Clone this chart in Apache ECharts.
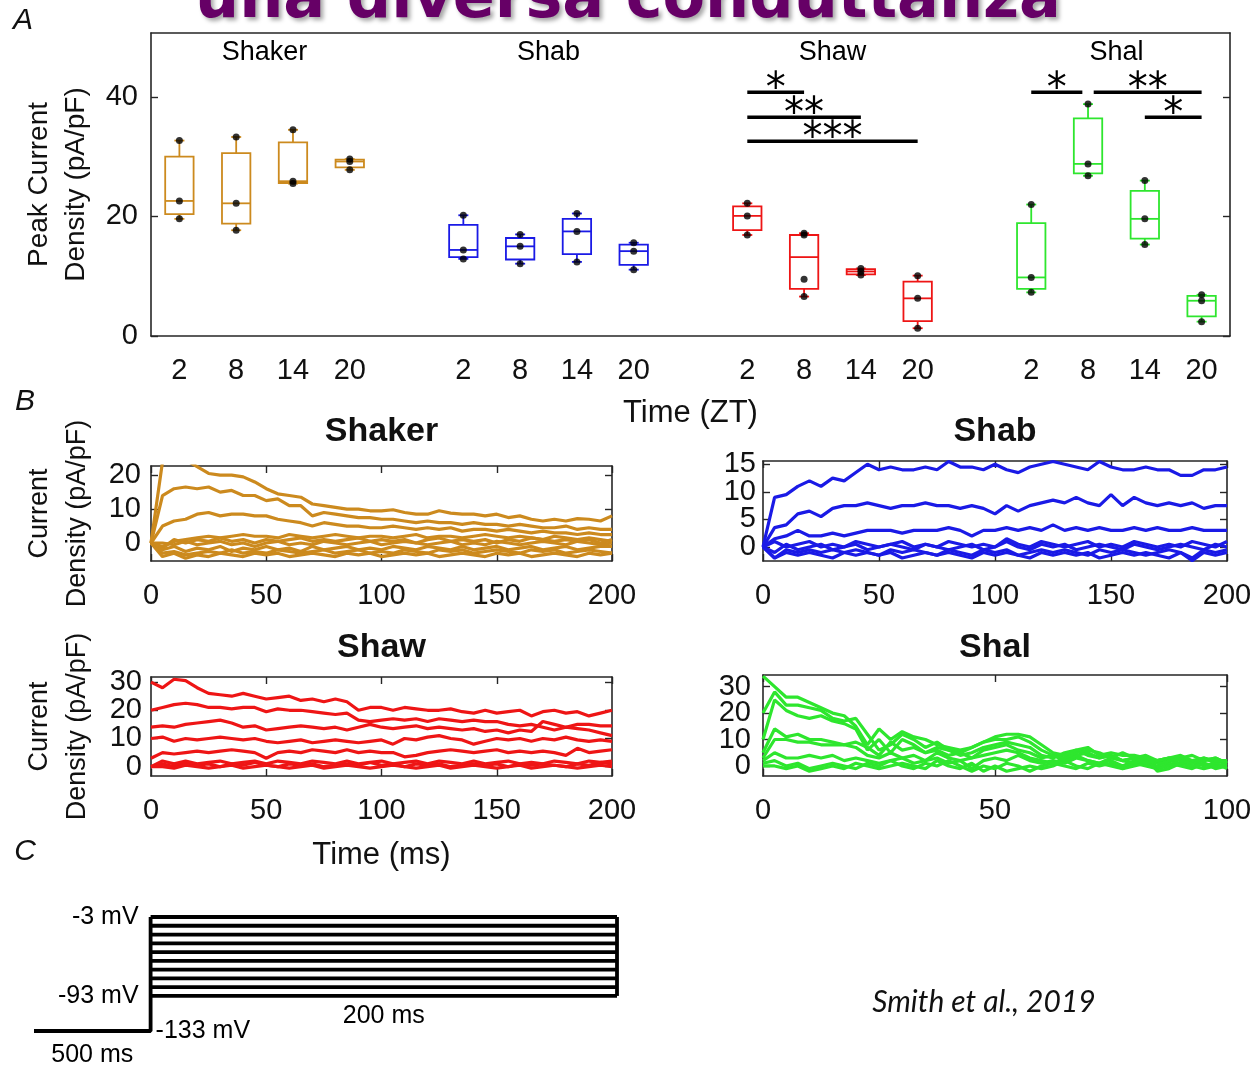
<!DOCTYPE html>
<html>
<head>
<meta charset="utf-8">
<script src="https://cdn.jsdelivr.net/npm/echarts@6.0.0/dist/echarts.min.js"></script>
<style>
html, body { margin: 0; padding: 0; background: #fff; }
#chart { width: 1255px; height: 1069px; }
</style>
</head>
<body>
<div id="chart"></div>
<script>
// ---------- panel A: peak current density per ZT ----------
const channels = ['Shaker', 'Shab', 'Shaw', 'Shal'];
const channelColors = ['#CC8A1E', '#1A1AE6', '#EE1515', '#2EE62E'];
const ztLabels = ['2', '8', '14', '20'];
const peakTicks = [0, 20, 40];

// box summaries: [min, q1, median, q3, max]
const shakerBox = [[19.6, 20.4, 22.6, 30.0, 32.7], [17.7, 18.8, 22.2, 30.6, 33.3], [25.5, 25.6, 25.9, 32.4, 34.5], [27.8, 28.2, 29.2, 29.5, 29.6]];
const shabBox = [[12.9, 13.2, 14.4, 18.6, 20.2], [12.1, 12.8, 15.0, 16.4, 17.0], [12.4, 13.7, 17.5, 19.6, 20.5], [11.1, 11.9, 14.2, 15.3, 15.6]];
const shawBox = [[16.9, 17.7, 20.1, 21.7, 22.2], [6.6, 7.9, 13.2, 16.9, 17.2], [10.2, 10.3, 10.8, 11.2, 11.3], [1.3, 2.5, 6.3, 9.1, 10.1]];
const shalBox = [[7.3, 7.9, 9.8, 18.9, 22.0], [26.8, 27.2, 28.8, 36.4, 38.8], [15.3, 16.3, 19.6, 24.3, 26.0], [2.4, 3.3, 5.9, 6.7, 6.9]];

// individual cells (black dots)
const shakerPts = [[32.7, 22.6, 19.6], [33.3, 22.2, 17.7], [34.5, 25.9, 25.5], [29.6, 29.2, 27.8]];
const shabPts = [[20.2, 14.4, 12.9], [17.0, 15.0, 12.1], [20.5, 17.5, 12.4], [15.6, 14.2, 11.1]];
const shawPts = [[22.2, 20.1, 16.9], [17.2, 16.9, 9.5, 6.6], [11.3, 10.8, 10.2], [10.1, 6.3, 1.3]];
const shalPts = [[22.0, 9.8, 7.3], [38.8, 28.8, 26.8], [26.0, 19.6, 15.3], [6.9, 5.9, 2.4]];

// significance bars (slot positions on the ZT axis) and their stars
const sigFrom = [10, 10, 10, 15, 16.1, 17];
const sigTo = [11, 12, 13, 15.9, 18, 18];
const sigLevel = [40.8, 36.6, 32.6, 40.8, 40.8, 36.6];
const sigStars = ['*', '**', '***', '*', '**', '*'];
const groupTitleLevel = 47.5;

// ---------- panel B: current traces ----------
const t200 = [0, 5, 10, 15, 20, 25, 30, 35, 40, 45, 50, 55, 60, 65, 70, 75, 80, 85, 90, 95, 100, 105, 110, 115, 120, 125, 130, 135, 140, 145, 150, 155, 160, 165, 170, 175, 180, 185, 190, 195, 200];
const t100 = [0, 2.5, 5, 7.5, 10, 12.5, 15, 17.5, 20, 22.5, 25, 27.5, 30, 32.5, 35, 37.5, 40, 42.5, 45, 47.5, 50, 52.5, 55, 57.5, 60, 62.5, 65, 67.5, 70, 72.5, 75, 77.5, 80, 82.5, 85, 87.5, 90, 92.5, 95, 97.5, 100];
const ticks200 = [0, 50, 100, 150, 200];
const ticks100 = [0, 50, 100];

const shakerTicks = [0, 10, 20];
const shaker1 = [0, 24, 25, 24.5, 22.5, 20.5, 20, 20, 19.5, 18, 16, 14.5, 14, 13.5, 11.5, 11, 10.5, 10, 10, 9.5, 9.5, 9.8, 9, 8.5, 8.5, 9.5, 8.8, 8.5, 8.5, 8, 8.5, 7.5, 8, 7, 6.5, 7, 6.5, 7.2, 7, 6.5, 8];
const shaker2 = [0, 14, 16, 16.5, 16, 16.5, 15, 15.5, 14, 14, 12.5, 13, 11, 11, 8, 9, 8.5, 8, 7.5, 7.5, 7, 7, 6.5, 6, 6.5, 6, 6, 5.5, 6, 5.5, 5.5, 5, 5.5, 5, 4.5, 4.5, 5, 4, 4.5, 4, 4];
const shaker3 = [0, 5, 6.5, 7, 8.5, 9, 8, 8.5, 8.5, 8, 8, 7, 6.5, 6, 5, 6, 5.5, 5, 5, 4.5, 4.5, 5, 4.5, 4, 4.5, 4, 4.5, 3.5, 4, 4, 3.5, 4, 3.5, 3, 3.5, 3, 3, 2.5, 3, 2.5, 2.5];
const shaker4 = [0, -1, 0.5, 1, 1.5, 2, 1.5, 2, 2.5, 2, 2, 1.5, 2.5, 2, 1.5, 2, 2.5, 2, 1.5, 2, 2, 1.5, 2, 2.5, 1.5, 2, 2, 1.5, 2, 2.5, 2, 1.5, 2, 1.5, 1, 2, 1.5, 1, 1.5, 1, 0.5];
const shaker5 = [0, -2, -1, -2.5, -1.5, -2, -1, -2.5, -1.5, -2, -1, -2, -1.5, -2.5, -1, -2, -1.5, -1, -2, -1.5, -2, -1, -1.5, -2, -1, -1.5, -2, -1, -2, -1.5, -1, -2, -1.5, -1, -2, -1.5, -1, -2, -1.5, -1, -1];
const shaker6 = [0, -3, -2.5, -3.5, -3, -2.5, -3, -2, -3, -2.5, -3, -2, -2.5, -3, -2.5, -2, -3, -2.5, -2, -3, -2.5, -3, -2, -2.5, -3, -2, -2.5, -2, -3, -2.5, -2, -2.5, -3, -2, -2.5, -2, -3, -2.5, -2, -2.5, -3];
const shaker7 = [0, 0, -0.5, 0.5, -0.5, 0, 0.5, -0.5, 0, -1, 0, 0.5, -0.5, 0, -0.5, 0.5, 0, -0.5, 0, 0.5, -0.5, 0, 0.5, 0, -0.5, 0, 0.5, -0.5, 0, -0.5, 0.5, 0, -0.5, 0, 0.5, 0, -0.5, 0.5, 0, -0.5, 0];
const shaker8 = [0, -4, -3, -4.5, -3.5, -4, -3, -3.5, -4, -3, -3.5, -3, -4, -3.5, -3, -3.5, -4, -3, -3.5, -3, -4, -3.5, -3, -3.5, -3, -4, -3.5, -3, -3.5, -4, -3, -3.5, -3, -4, -3.5, -3, -3.5, -4, -3, -3.5, -3];
const shaker9 = [0, -1.5, 1, 0, 1, 0.5, 1.5, 0.5, 1, 0, 1, 0.5, 1, 1.5, 0.5, 1, 0.5, 1, 1.5, 0.5, 1, 0.5, 1, 0, 1, 1.5, 0.5, 1, 0.5, 1, 0, 1, 0.5, 1.5, 1, 0.5, 1, 0.5, 1, 0, 1];

const shabTicks = [0, 5, 10, 15];
const shab1 = [0, 9, 9.5, 11, 12, 11, 12.5, 12, 13.5, 15, 14, 14.5, 14, 14, 14.5, 14, 15.5, 14.5, 14.5, 14, 15, 14, 13.5, 14.5, 15, 15.5, 15, 14.5, 14, 15.5, 14.5, 14, 14, 14.5, 14, 14, 13, 13, 14, 14, 14.5];
const shab2 = [0, 3.5, 4, 6, 6.5, 5.5, 7, 7.5, 7.5, 8, 7.5, 7, 7.5, 7.5, 8, 7.5, 7.5, 7, 7.5, 7, 6, 7.5, 6.5, 7.5, 8, 8.5, 8, 9, 8, 7.5, 9.5, 7.5, 9, 8, 7.5, 8, 7.5, 8, 7, 7.5, 7.5];
const shab3 = [0, 1.5, 2, 3, 2, 2, 2.5, 2, 2.5, 3, 3, 3, 2.5, 3, 3, 3, 3.5, 3, 2, 3, 3, 3.5, 3, 3.5, 3, 4, 3, 3.5, 3, 3.5, 3, 3, 3.5, 3, 3.5, 3, 3, 3.5, 3, 3, 3];
const shab4 = [0, -1, 0.5, -0.5, 0, 0.5, -0.5, 0, 0.5, -0.5, 0, 0.5, 0, -0.5, 0.5, 0, -0.5, 0, 0.5, -0.5, 0, 1, 0, -0.5, 0.5, 0, 0.5, -0.5, 0, 0.5, 0, -0.5, 0.5, 0, -0.5, 0, 0.5, 0, -0.5, 0.5, 0];
const shab5 = [0, -2, -0.5, -1, -0.5, -1, -0.5, -1, -0.5, -1, -1.5, -0.5, -1, -0.5, -1, -1.5, -0.5, -1, -1.5, -0.5, -1, -0.5, -1.5, -1, -0.5, -1, -0.5, -1, -1.5, -0.5, -1, -0.5, -1, -1.5, -1, -0.5, -1, -2, -0.5, -1, -0.5];
const shab6 = [0, 1, 0, 0.5, 1, 0, 0.5, 0, 1, 0.5, 0, 0.5, 1, 0, 0.5, 0, 1, 0.5, 0, 0.5, 0, 1.5, 0.5, 0, 1, 0.5, 0, 0.5, 1, 0, 0.5, 0, 1, 0.5, 0, 0.5, 0, 1, 0.5, 0, 1];
const shab7 = [0, -2, -1, -1.5, -1, -1.5, -2, -1, -1.5, -1, -1.5, -1, -2, -1.5, -1, -1.5, -1, -1.5, -2, -1, -1.5, -1, -1.5, -2, -1, -1.5, -1, -1.5, -1, -2, -1.5, -1, -1.5, -1, -1.5, -2, -1, -2.5, -1, -1.5, -1];

const shawTicks = [0, 10, 20, 30];
const shaw1 = [30, 28, 31, 30.5, 28, 26, 25.5, 25, 26, 25, 24, 24.5, 25, 23.5, 24, 23, 24, 23, 20, 21, 21, 20, 21, 20.5, 20, 20, 20.5, 19.5, 19, 20, 19, 19.5, 20, 18, 19.5, 20, 19, 19.5, 18, 19, 20];
const shaw2 = [20, 21, 22, 22.5, 22, 21, 21, 20.5, 21, 21, 19.5, 20.5, 20, 20, 19.5, 19, 18.5, 19, 16.5, 16, 16.5, 17, 16.5, 17, 16, 17, 16.5, 16, 16.5, 16, 16, 15, 14.5, 15, 14, 13, 14, 13.5, 13, 12, 11];
const shaw3 = [14, 14.5, 14, 15, 15.5, 16, 16.5, 15.5, 14, 14.5, 13, 13.5, 14, 14.5, 14, 13.5, 14, 13, 14, 15, 14, 13.5, 14, 14.5, 13.5, 14, 13.5, 13, 13.5, 12.5, 13, 12, 13, 12.5, 16, 15, 14, 15, 15, 14.5, 14.5];
const shaw4 = [10, 10.5, 9, 10, 9.5, 10, 10.5, 10, 9.5, 10, 9, 8.5, 9, 9.5, 8.5, 9, 9.5, 9, 8.5, 9, 9.5, 8, 10, 9.5, 10.5, 11, 10, 9.5, 8, 9, 10, 9.5, 10, 9, 10, 9.5, 10.5, 9.5, 9, 9.5, 9];
const shaw5 = [3, 5, 4.5, 5, 5.5, 5, 5.5, 6, 5.5, 5, 3, 5, 5.5, 5, 6, 5.5, 5, 6, 5, 5.5, 5, 5, 3.5, 4, 5, 5.5, 6, 5.5, 5, 5.5, 6, 5, 5.5, 5, 5.5, 5, 4, 6.5, 5, 5.5, 6];
const shaw6 = [0, 1, 0, 1.5, 0.5, 1, 0, 1, 0.5, 1.5, 0.5, 0, 1, 0.5, 1, 0, 0.5, 1, 0.5, 1.5, 0.5, 1, 0, 1, 0.5, 1, 0, 0.5, 1, 0.5, 1, 0, 1, 0.5, 1, 0.5, 0, 1, 0.5, 1.5, 1];
const shaw7 = [0, 2, 1, 2, 1, 1.5, 2, 1, 1.5, 2, 1, 2, 1.5, 1, 2, 1.5, 1, 2, 1, 1.5, 2, 1, 1.5, 2, 1, 2, 1.5, 1, 2, 1, 1.5, 2, 1, 1.5, 1, 2, 1.5, 1, 2, 1.5, 2];
const shaw8 = [0, 0, -0.5, 0.5, 0, -0.5, 0, 0.5, -0.5, 0, 0.5, 0, -0.5, 0, 0.5, -0.5, 0, 0.5, 0, -0.5, 0, 0.5, 0, -0.5, 0, 0.5, -0.5, 0, 0.5, 0, -0.5, 0, 0.5, -0.5, 0, 0.5, 0, -0.5, 0, 0.5, 0];

const shalTicks = [0, 10, 20, 30];
const shal1 = [34, 30, 26, 26, 24, 22, 20, 19, 15, 8, 14, 10, 13, 11, 10, 8, 7, 6, 7, 9, 11, 12, 12, 11, 8, 5, 4, 6, 7, 4, 5, 4, 4, 3, 2, 3, 4, 2, 3, 2, 2];
const shal2 = [20, 28, 23, 23, 22, 21, 18, 17, 18, 12, 6, 8, 12, 10, 7, 9, 6, 5, 7, 9, 10, 10, 11, 9, 6, 4, 3, 5, 6, 5, 3, 5, 3, 4, 2, 3, 3, 4, 2, 3, 1];
const shal3 = [10, 25, 21, 19, 18, 19, 17, 16, 14, 6, 10, 5, 10, 8, 5, 7, 6, 4, 5, 7, 8, 9, 8, 7, 4, 3, 5, 6, 4, 3, 4, 2, 3, 1, 2, 3, 2, 1, 3, 1, 2];
const shal4 = [5, 14, 11, 12, 10, 10, 9, 8, 9, 7, 4, 9, 6, 7, 5, 6, 4, 5, 3, 6, 7, 8, 6, 5, 3, 4, 2, 4, 5, 3, 4, 2, 3, 2, 1, 2, 3, 1, 2, 3, 1];
const shal5 = [3, 10, 10, 9, 9, 8, 8, 8, 7, 4, 3, 5, 3, 4, 2, 5, 3, 2, 3, 4, 5, 6, 5, 3, 2, 1, 3, 4, 2, 1, 3, 2, 1, 3, -2, -1, 1, 2, 0, 1, -1];
const shal6 = [2, 5, 3, 3, 4, 3, 4, 2, 3, 2, 1, 2, 3, 1, 2, 3, 1, 2, -1, 2, 3, 2, 4, 2, 1, 2, 1, 3, 2, 1, 2, 0, 2, 1, 0, 2, 1, 0, 1, 0, 1];
const shal7 = [1, 2, 0, 1, -1, 0, 1, 0, -1, 1, 0, 2, 0, -1, 1, 0, 2, 0, -2, 0, -1, 1, 0, -2, 0, 1, 0, -1, 1, 0, 1, -1, 0, 1, -1, 0, 1, 0, -1, 0, 0];
const shal8 = [0, 0, -1, 0, -2, -1, 0, -1, 1, 0, -1, 0, 1, 0, -1, 2, 0, -1, 1, -2, 0, -2, -1, 0, -1, 0, 2, 0, -1, 1, 0, -1, 1, 0, -1, 1, 0, -1, 1, -1, 0];

// ---------- panel C: voltage protocol ----------
const holdLevel = -133;
const stepLevels = [-3, -13, -23, -33, -43, -53, -63, -73, -83, -93];
const holdDuration = 500;
const stepDuration = 200;
const holdDrawnFrom = -50; // the 500 ms hold is drawn shortened, as in the original sketch

// ---------- helpers ----------
const ink = '#111';
const font = 'Liberation Sans';
const frame = { show: true, onZero: false, lineStyle: { color: '#262626', width: 1.6 } };

function tickAxis(ticks) {
  return { show: true, inside: true, length: 7, customValues: ticks, lineStyle: { color: '#262626', width: 1.4 } };
}

function xPair(grid, min, max, ticks, title, titleGap, name, nameGap) {
  return [{
    type: 'value', gridIndex: grid, min: min, max: max, position: 'bottom',
    axisLine: frame, splitLine: { show: false }, axisTick: tickAxis(ticks),
    axisLabel: { customValues: ticks, fontFamily: font, fontSize: 29, color: ink, margin: 20 },
    name: name || '', nameLocation: 'middle', nameGap: nameGap || 0,
    nameTextStyle: { fontFamily: font, fontSize: 31, color: ink }
  }, {
    type: 'value', gridIndex: grid, min: min, max: max, position: 'top',
    axisLine: frame, splitLine: { show: false }, axisTick: tickAxis(ticks),
    axisLabel: { show: false },
    name: title, nameLocation: 'middle', nameGap: titleGap,
    nameTextStyle: { fontFamily: font, fontSize: 34, fontWeight: 'bold', color: ink }
  }];
}

// the tick labels of panel B sit very close together; every other label goes on a
// second, line-less axis so the library does not drop them as overlapping
const extraY = [];
function yPair(grid, min, max, ticks, margin, name) {
  const evens = ticks.filter((t, i) => i % 2 === 0);
  const odds = ticks.filter((t, i) => i % 2 === 1);
  const lab = vals => ({ customValues: vals, fontFamily: font, fontSize: 29, color: ink, margin: margin,
    showMinLabel: true, showMaxLabel: true });
  extraY.push({
    type: 'value', gridIndex: grid, min: min, max: max, position: 'left',
    axisLine: { show: false }, axisTick: { show: false }, splitLine: { show: false },
    axisLabel: lab(odds)
  });
  return [{
    type: 'value', gridIndex: grid, min: min, max: max, position: 'left',
    axisLine: frame, splitLine: { show: false }, axisTick: tickAxis(ticks),
    axisLabel: lab(evens),
    name: name || '', nameLocation: 'middle', nameGap: 54,
    nameTextStyle: { fontFamily: font, fontSize: 27, color: ink, lineHeight: 38 }
  }, {
    type: 'value', gridIndex: grid, min: min, max: max, position: 'right',
    axisLine: frame, splitLine: { show: false }, axisTick: tickAxis(ticks),
    axisLabel: { show: false }
  }];
}

function traceSeries(xi, yi, times, traces, color) {
  return traces.map(tr => ({
    type: 'line', xAxisIndex: xi, yAxisIndex: yi, symbol: 'none', silent: true,
    data: tr.map((v, k) => [times[k], v]),
    lineStyle: { color: color, width: 3.2 }, itemStyle: { color: color }
  }));
}

// ZT axis: four slots per channel, one empty slot between channels
const aCategories = [];
channels.forEach((ch, c) => {
  ztLabels.forEach(zt => aCategories.push(ch + '|' + zt));
  if (c < channels.length - 1) aCategories.push('gap' + c);
});

function boxSeries(c, boxes, pts) {
  const color = channelColors[c];
  const dots = [];
  pts.forEach((arr, i) => arr.forEach(v => dots.push([c * 5 + i, v])));
  return [{
    type: 'custom', xAxisIndex: 0, yAxisIndex: 0, silent: true,
    data: boxes.map((b, i) => [c * 5 + i].concat(b)),
    encode: { x: 0, y: [1, 2, 3, 4, 5] },
    renderItem: function (params, api) {
      const x = api.value(0);
      const lo = api.coord([x, api.value(1)]);
      const q1 = api.coord([x, api.value(2)]);
      const md = api.coord([x, api.value(3)]);
      const q3 = api.coord([x, api.value(4)]);
      const hi = api.coord([x, api.value(5)]);
      const w = api.size([1, 0])[0] * 0.5;
      const cx = lo[0];
      const st = { stroke: color, lineWidth: 1.8, fill: 'none' };
      const ln = (x1, y1, x2, y2) => ({ type: 'line', shape: { x1: x1, y1: y1, x2: x2, y2: y2 }, style: st });
      return {
        type: 'group', children: [
          ln(cx, lo[1], cx, q1[1]),
          ln(cx, q3[1], cx, hi[1]),
          ln(cx - 5, lo[1], cx + 5, lo[1]),
          ln(cx - 5, hi[1], cx + 5, hi[1]),
          { type: 'rect', shape: { x: cx - w / 2, y: q3[1], width: w, height: q1[1] - q3[1] }, style: st },
          ln(cx - w / 2, md[1], cx + w / 2, md[1])
        ]
      };
    }
  }, {
    type: 'scatter', xAxisIndex: 0, yAxisIndex: 0, silent: true,
    data: dots, symbolSize: 7, itemStyle: { color: '#000' }, z: 5
  }];
}

// invisible anchor points that only carry a text label
const textMark = { symbol: 'circle', symbolSize: 0, itemStyle: { color: '#000', opacity: 1 }, silent: true };

const series = [].concat(
  boxSeries(0, shakerBox, shakerPts),
  boxSeries(1, shabBox, shabPts),
  boxSeries(2, shawBox, shawPts),
  boxSeries(3, shalBox, shalPts),
  sigFrom.map((f, k) => ({
    type: 'line', xAxisIndex: 1, yAxisIndex: 0, symbol: 'none', silent: true,
    data: [[f, sigLevel[k]], [sigTo[k], sigLevel[k]]],
    lineStyle: { color: '#000', width: 3.5 }
  })),
  [Object.assign({
    type: 'scatter', xAxisIndex: 1, yAxisIndex: 0,
    data: sigFrom.map((f, k) => ({ value: [(f + sigTo[k]) / 2, sigLevel[k]], name: sigStars[k] })),
    label: { show: true, position: 'inside', offset: [0, -2], formatter: p => p.name,
      fontFamily: 'DejaVu Sans', fontSize: 40, color: '#000', textBorderWidth: 0 }
  }, textMark)],
  [Object.assign({
    type: 'scatter', xAxisIndex: 1, yAxisIndex: 0,
    data: channels.map((ch, c) => ({ value: [c * 5 + 1.5, groupTitleLevel], name: ch })),
    label: { show: true, position: 'inside', formatter: p => p.name, fontFamily: font, fontSize: 27,
      color: '#000', textBorderWidth: 0 }
  }, textMark)],
  traceSeries(2, 2, t200, [shaker5, shaker6, shaker7, shaker8, shaker9, shaker4, shaker3, shaker2, shaker1], channelColors[0]),
  traceSeries(4, 4, t200, [shab4, shab5, shab6, shab7, shab3, shab2, shab1], channelColors[1]),
  traceSeries(6, 6, t200, [shaw6, shaw7, shaw8, shaw5, shaw4, shaw3, shaw2, shaw1], channelColors[2]),
  traceSeries(8, 8, t100, [shal8, shal7, shal6, shal5, shal4, shal3, shal2, shal1], channelColors[3]),
  [{
    type: 'line', xAxisIndex: 10, yAxisIndex: 10, symbol: 'none', silent: true, clip: false,
    data: [[holdDrawnFrom, holdLevel], [0, holdLevel], [0, stepLevels[0]]],
    lineStyle: { color: '#000', width: 3.8 }
  }, {
    type: 'line', xAxisIndex: 10, yAxisIndex: 10, symbol: 'none', silent: true, clip: false,
    data: [[stepDuration, stepLevels[0]], [stepDuration, stepLevels[stepLevels.length - 1]]],
    lineStyle: { color: '#000', width: 3.8 }
  }],
  stepLevels.map(v => ({
    type: 'line', xAxisIndex: 10, yAxisIndex: 10, symbol: 'none', silent: true, clip: false,
    data: [[0, v], [stepDuration, v]],
    lineStyle: { color: '#000', width: 3.8 }
  })),
  [Object.assign({
    type: 'scatter', xAxisIndex: 10, yAxisIndex: 10, clip: false,
    data: [
      { value: [0, stepLevels[0]], name: stepLevels[0] + ' mV', label: { position: 'left', distance: 12 } },
      { value: [0, stepLevels[stepLevels.length - 1]], name: stepLevels[stepLevels.length - 1] + ' mV', label: { position: 'left', distance: 12 } },
      { value: [0, holdLevel], name: holdLevel + ' mV', label: { position: 'right', distance: 5 } },
      { value: [stepDuration / 2, stepLevels[stepLevels.length - 1]], name: stepDuration + ' ms', label: { position: 'bottom', distance: 8 } },
      { value: [holdDrawnFrom / 2, holdLevel], name: holdDuration + ' ms', label: { position: 'bottom', distance: 12 } }
    ],
    label: { show: true, formatter: p => p.name, fontFamily: font, fontSize: 25, color: '#000', textBorderWidth: 0 }
  }, textMark)]
);

const xAxes = [
  {
    type: 'category', gridIndex: 0, data: aCategories, boundaryGap: true, position: 'bottom',
    axisLine: frame, axisTick: { show: false }, splitLine: { show: false },
    axisLabel: { interval: 0, fontFamily: font, fontSize: 29, color: ink, margin: 20,
      formatter: v => (v.indexOf('|') >= 0 ? v.split('|')[1] : '') },
    name: 'Time (ZT)', nameLocation: 'middle', nameGap: 62,
    nameTextStyle: { fontFamily: font, fontSize: 31, color: ink }
  },
  {
    type: 'value', gridIndex: 0, min: -0.5, max: aCategories.length - 0.5, position: 'top',
    axisLine: frame, axisTick: { show: false }, axisLabel: { show: false }, splitLine: { show: false }
  }
].concat(
  xPair(1, 0, 200, ticks200, 'Shaker', 17),
  xPair(2, 0, 200, ticks200, 'Shab', 12),
  xPair(3, 0, 200, ticks200, 'Shaw', 12, 'Time (ms)', 64),
  xPair(4, 0, 100, ticks100, 'Shal', 10),
  [{ type: 'value', gridIndex: 5, min: holdDrawnFrom, max: stepDuration, show: false }]
);

const yAxes = [
  {
    type: 'value', gridIndex: 0, min: 0, max: 50.7, position: 'left',
    axisLine: frame, splitLine: { show: false }, axisTick: tickAxis(peakTicks),
    axisLabel: { customValues: peakTicks, fontFamily: font, fontSize: 29, color: ink, margin: 13 },
    name: 'Peak Current\nDensity (pA/pF)', nameLocation: 'middle', nameGap: 54,
    nameTextStyle: { fontFamily: font, fontSize: 28, color: ink, lineHeight: 37 }
  },
  {
    type: 'value', gridIndex: 0, min: 0, max: 50.7, position: 'right',
    axisLine: frame, splitLine: { show: false }, axisTick: tickAxis(peakTicks), axisLabel: { show: false }
  }
].concat(
  yPair(1, -5.3, 22.7, shakerTicks, 10, 'Current\nDensity (pA/pF)'),
  yPair(2, -2.55, 15.6, shabTicks, 7),
  yPair(3, -3.3, 31.8, shawTicks, 9, 'Current\nDensity (pA/pF)'),
  yPair(4, -3.8, 34.4, shalTicks, 12),
  [{ type: 'value', gridIndex: 5, min: holdLevel, max: stepLevels[0], show: false }]
).concat(extraY);

const chart = echarts.init(document.getElementById('chart'), null, { renderer: 'canvas' });
chart.setOption({
  animation: false,
  backgroundColor: '#fff',
  grid: [
    { left: 151, top: 33, width: 1079, height: 303, outerBoundsMode: 'none' },
    { left: 151, top: 466, width: 461, height: 95, outerBoundsMode: 'none' },
    { left: 763, top: 461, width: 464, height: 100, outerBoundsMode: 'none' },
    { left: 151, top: 677, width: 461, height: 99, outerBoundsMode: 'none' },
    { left: 763, top: 675, width: 464, height: 101, outerBoundsMode: 'none' },
    { left: 34, top: 917, width: 583, height: 114, outerBoundsMode: 'none' }
  ],
  xAxis: xAxes,
  yAxis: yAxes,
  series: series,
  graphic: [
    { type: 'text', x: 628, y: 1, z: 100, style: {
        text: 'una diversa conduttanza', fontFamily: 'DejaVu Sans', fontWeight: 'bold', fontSize: 62,
        fill: '#660066', align: 'center', verticalAlign: 'middle',
        textShadowColor: 'rgba(0,0,0,0.35)', textShadowBlur: 4, textShadowOffsetX: 3, textShadowOffsetY: 3 } },
    { type: 'text', x: 23, y: 21, style: { text: 'A', fontFamily: font, fontStyle: 'italic', fontSize: 30, fill: ink, align: 'center', verticalAlign: 'middle' } },
    { type: 'text', x: 25, y: 402, style: { text: 'B', fontFamily: font, fontStyle: 'italic', fontSize: 30, fill: ink, align: 'center', verticalAlign: 'middle' } },
    { type: 'text', x: 25, y: 852, style: { text: 'C', fontFamily: font, fontStyle: 'italic', fontSize: 30, fill: ink, align: 'center', verticalAlign: 'middle' } },
    { type: 'text', x: 984, y: 1002, style: { text: 'Smith et al., 2019', fontFamily: 'Lato', fontStyle: 'italic', fontSize: 30, fill: '#111', align: 'center', verticalAlign: 'middle' } }
  ]
});
</script>
</body>
</html>
